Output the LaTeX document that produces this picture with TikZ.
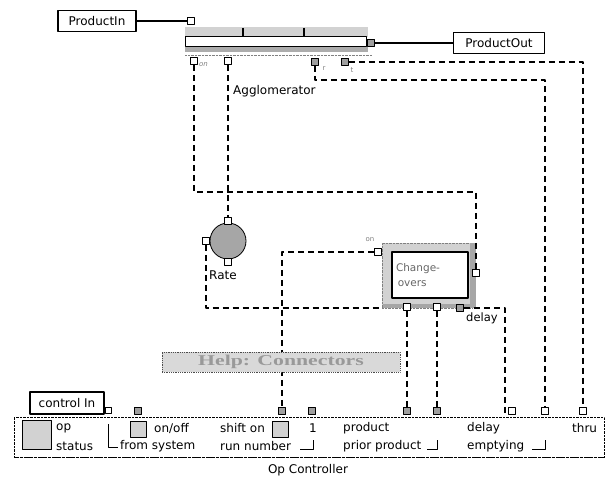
\documentclass[tikz,border=0pt]{standalone}
\usepackage{fontspec}
\setmainfont{DejaVu Sans}
\newfontfamily\helpfont{Liberation Serif}
\usepackage{graphicx}

\tikzset{
  box/.style={draw, line width=1.4pt, fill=white, inner sep=2pt, font=\fontsize{12}{14}\selectfont},
  port/.style={draw, fill=white, minimum size=7pt, inner sep=0pt, line width=0.8pt},
  darkport/.style={port, fill=gray!75},
  link/.style={line width=1.5pt, dash pattern=on 6pt off 4pt},
  wire/.style={line width=1.5pt},
  stipple/.style={fill=gray!35},
  lbl/.style={font=\fontsize{12}{14}\selectfont, inner sep=0pt, anchor=west},
  tinylbl/.style={font=\fontsize{7}{8}\selectfont, text=gray, inner sep=0pt},
  bracket/.style={line width=1pt},
}

\begin{document}
\begin{tikzpicture}[x=1pt, y=-1pt, line join=round]
  \useasboundingbox (0,0) rectangle (607,478);

  % Define key coordinates (corners of the dashed links)
  \coordinate (onTurn) at (476,192);     % on link turns down to Change-overs
  \coordinate (rTurn) at (545,80);       % r link turns down to emptying
  \coordinate (delayTurn) at (505,413);  % delay link turns into its port

  % Product in and out
  \node[box, minimum width=78pt, minimum height=21pt] (prodin) at (97,21) {ProductIn};
  \node[box, minimum width=91pt, minimum height=21pt] (prodout) at (499,43) {ProductOut};

  % Draw the agglomerator bar
  \fill[stipple] (185,27) rectangle (368,37);
  \node[draw, line width=1pt, fill=white, minimum width=181pt, minimum height=10pt, inner sep=0pt] (agg) at (275.5,42) {};
  \fill[gray!65] (185,47) rectangle (368,52);
  \draw[densely dotted, gray] (185,55) -- (372,55);
  \foreach \x in {243,304} \draw[line width=1.2pt] (\x,28) -- (\x,37);
  \node[lbl] at (233,91) {Agglomerator};

  % Agglomerator ports
  \node[port] (pin) at (191,21) {};
  \node[darkport] (pout) at (371,43) {};
  \node[port] (aggOn) at (194,61) {};
  \node[port] (aggRate) at (228,61) {};
  \node[darkport] (aggR) at (315,62) {};
  \node[darkport] (aggT) at (345,62) {};
  \node[tinylbl, anchor=west] at (199,65) {\itshape on};
  \node[tinylbl] at (324,69) {r};
  \node[tinylbl] at (352,70) {t};

  % Rate
  \node[circle, draw, fill=gray!70, minimum size=36pt, line width=0.8pt] (rate) at (228,241) {};
  \node[port] (rateIn) at (228,221) {};
  \node[port] (rateL) at (206,241) {};
  \node[port] (rateOut) at (228,262) {};
  \node[lbl, anchor=center] at (223,275) {Rate};

  % Change-overs
  \node[draw=gray, densely dotted, stipple, minimum width=90pt, minimum height=65pt] (chg) at (427,275.5) {};
  \fill[gray!70] (470,243) rectangle (476,308);
  \fill[gray!70] (383,304) rectangle (476,308);
  \node[draw, line width=1.6pt, fill=white, minimum width=76pt, minimum height=46pt,
        text width=68pt, align=left, text=gray!80!black, font=\fontsize{10.5}{15}\selectfont] (chgIn) at (430,275) {Change-\\\,overs};
  \node[port] (chOn) at (378,252) {};
  \node[port] (chR) at (476,273) {};
  \node[port] (chB1) at (407,307) {};
  \node[port] (chB2) at (437,307) {};
  \node[darkport] (chDelay) at (460,308) {};
  \node[tinylbl] at (370,240) {on};
  \node[lbl, font=\fontsize{11.5}{13}\selectfont] at (466,318) {delay};

  % control In
  \node[box, minimum width=74pt, minimum height=22pt] (ctl) at (67,403) {control In};
  \node[port, minimum size=6pt] (ctlPort) at (108,410) {};

  % Op Controller panel
  \node[draw, densely dotted, minimum width=590pt, minimum height=40pt] (panel) at (309,437) {};
  \draw[line width=1pt, densely dotted] (panel.south west) -- (panel.south east);
  \node[font=\fontsize{12}{14}\selectfont] (opctl) at (308,470) {Op Controller};

  % Panel ports
  \foreach \name/\x in {pOnoff/138, pShift/282, pOne/312, pProduct/407, pPrior/437}
    \node[darkport] (\name) at (\x,411) {};
  \foreach \name/\x in {pDelay/512, pEmpty/545, pThru/583}
    \node[port] (\name) at (\x,411) {};

  % Panel contents
  \node[draw, stipple, minimum size=29pt, line width=1pt] (opStatus) at (36.5,435) {};
  \node[lbl] at (56,428) {op};
  \node[lbl] at (56,446) {status};
  \draw[bracket] (108,424) -- (108,447) -- (118,447);
  \node[draw, stipple, minimum size=16pt, line width=0.8pt] (onoff) at (138.5,429) {};
  \node[lbl] at (154,428) {on/off};
  \node[lbl] at (120,446) {from system};
  \node[lbl] at (220,428) {shift on};
  \node[draw, stipple, minimum size=16pt, line width=0.8pt] (shiftsq) at (280.5,429) {};
  \node[lbl] at (220,446) {run number};
  \draw[bracket] (300,449) -- (313,449) -- (313,440);
  \node[lbl] at (309,428) {1};
  \node[lbl] at (343,428) {product};
  \node[lbl] at (343,446) {prior product};
  \draw[bracket] (427,449) -- (437,449) -- (437,440);
  \node[lbl] at (467,428) {delay};
  \node[lbl] at (467,446) {emptying};
  \draw[bracket] (532,449) -- (545,449) -- (545,440);
  \node[lbl] at (572,428) {thru};

  % Solid product wires
  \draw[wire] (prodin.east) -- (pin.west);
  \draw[wire] (pout.east) -- (prodout.west);

  % Dashed links
  \draw[link] (aggOn.south) |- (onTurn) -- (chR.north);
  \draw[link] (aggRate.south) -- (rateIn.north);
  \draw[link] (rateL.south) |- (chg.south west);
  \draw[link] (chOn.west) -| (pShift.north);
  \draw[link] (chB1.south) -- (pProduct.north);
  \draw[link] (chB2.south) -- (pPrior.north);
  \draw[link] (chDelay.east) -| (delayTurn) -- (pDelay.west);
  \draw[link] (aggR.south) |- (rTurn) -- (pEmpty.north);
  \draw[link] (aggT.east) -| (pThru.north);

  % Help button drawn last, over the shift link
  \node[draw=gray!60!black, densely dotted, line width=0.8pt, fill=gray!30, minimum width=238pt, minimum height=20pt, inner sep=0pt] (help) at (281,362)
    {\helpfont\bfseries\fontsize{15}{16}\selectfont\color{gray!80}\scalebox{1.45}[1]{Help: Connectors}};
\end{tikzpicture}
\end{document}
